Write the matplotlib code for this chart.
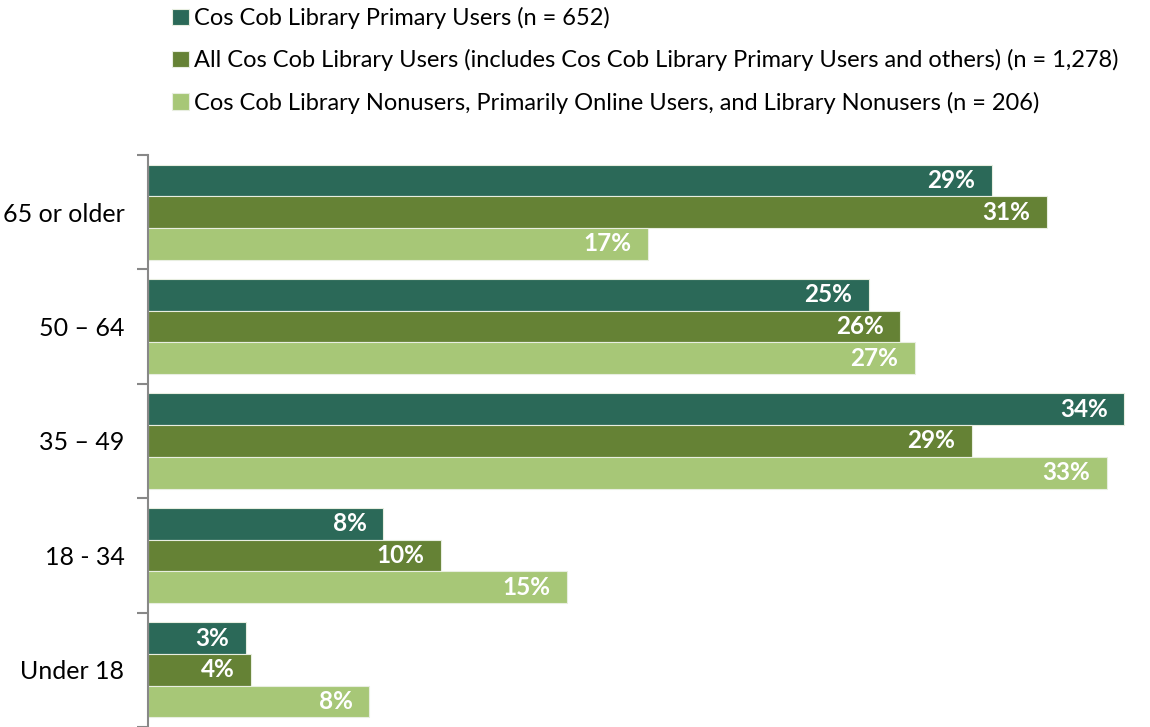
import numpy as np
import matplotlib.pyplot as plt

plt.rcParams['font.family'] = ['Lato', 'DejaVu Sans']

# data (bottom to top)
categories = ['Under 18', '18 - 34', '35 – 49', '50 – 64', '65 or older']
primary = [3.4, 8.2, 34.0, 25.1, 29.4]
all_users = [3.6, 10.2, 28.7, 26.2, 31.3]
nonusers = [7.7, 14.6, 33.4, 26.7, 17.4]
series_names = [
    'Cos Cob Library Primary Users (n = 652)',
    'All Cos Cob Library Users (includes Cos Cob Library Primary Users and others) (n = 1,278)',
    'Cos Cob Library Nonusers, Primarily Online Users, and Library Nonusers (n = 206)',
]
colors = ['#2b6958', '#658235', '#a7c777']

fig = plt.figure(figsize=(11.5, 7.27), dpi=100)
ax = fig.add_axes([148 / 1150, 0, 1 - 148 / 1150, 1 - 155 / 727])

y = np.arange(len(categories))
h = 0.277
offsets = [h, 0, -h]
handles = []
for vals, off, col, name in zip([primary, all_users, nonusers], offsets, colors, series_names):
    bars = ax.barh(y + off, vals, height=h, color=col, edgecolor='#e8eee0',
                   linewidth=0.8, label=name)
    handles.append(bars)
    for b, v in zip(bars, vals):
        ax.annotate(f'{round(v)}%', (b.get_width(), b.get_y() + b.get_height() / 2),
                    xytext=(-12, 0), textcoords='offset points', ha='right', va='center',
                    color='white', fontsize=17.5, fontweight='bold')

ax.set_xlim(0, 34.9)
ax.set_ylim(-0.5, 4.5)
ax.set_xticks([])
ax.set_yticks(y)
ax.set_yticklabels(categories, fontsize=18)
ax.tick_params(axis='y', which='major', length=0, pad=17)
ax.set_yticks(np.arange(-0.5, 5, 1), minor=True)
ax.tick_params(axis='y', which='minor', length=8, width=1.5, color='#888888', direction='out')
for s in ['top', 'right', 'bottom']:
    ax.spines[s].set_visible(False)
ax.spines['left'].set_color('#888888')
ax.spines['left'].set_linewidth(1.5)

fig.legend(handles=handles, labels=series_names, loc='upper left',
           bbox_to_anchor=(172 / 1150, 1 - 7 / 727), frameon=False, fontsize=17,
           borderpad=0, borderaxespad=0,
           handlelength=0.7, handleheight=0.7, handletextpad=0.25, labelspacing=0.86)

fig.savefig('out.png', dpi=100)
